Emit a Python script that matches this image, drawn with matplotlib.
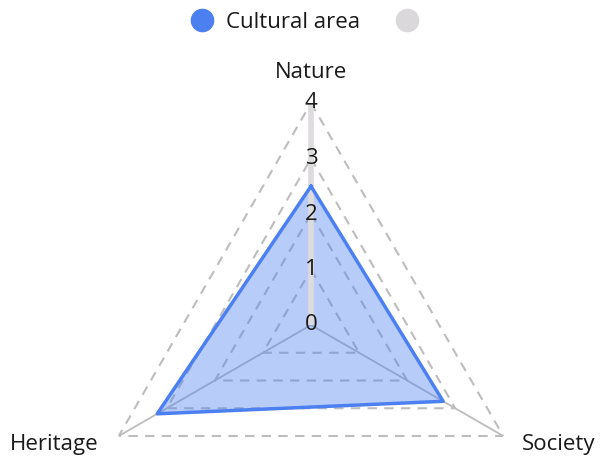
import numpy as np
import matplotlib.pyplot as plt
from matplotlib.lines import Line2D

plt.rcParams['font.family'] = ['Open Sans', 'DejaVu Sans']

categories = ['Nature', 'Society', 'Heritage']
cultural_area = [2.5, 2.75, 3.2]
grid_levels = [1, 2, 3, 4]
tick_labels = ['0', '1', '2', '3', '4']
series_names = ['Cultural area', '']

blue = '#4c80f1'
grid_col = '#bdbdbd'
txt = '#1a1a1a'
fs = 16

fig = plt.figure(figsize=(6, 4.61), dpi=100)
ax = fig.add_axes([89/600, -86/461, 444/600, 444/461], projection='polar')
ax.set_theta_offset(np.pi/2)
ax.set_theta_direction(-1)
ax.set_ylim(0, 4)
ax.axis('off')

n = len(categories)
theta = np.arange(n) * 2*np.pi/n
tc = np.append(theta, theta[0])

# grid triangles
for lvl in grid_levels:
    ax.plot(tc, [lvl]*(n+1), color=grid_col, lw=1.5, ls=(0, (4.5, 3.5)), zorder=1)
# spokes
for i, t in enumerate(theta):
    if i == 0:
        ax.plot([t, t], [0, 4], color='#dedbde', lw=4, solid_capstyle='butt', zorder=2.5)
    else:
        ax.plot([t, t], [0, 4], color=grid_col, lw=1.3, zorder=1)

vals = np.append(cultural_area, cultural_area[0])
ax.fill(tc, vals, color=blue, alpha=0.4, lw=0, zorder=2)
ax.plot(tc, vals, color=blue, lw=2.5, zorder=3)

for i, lab in enumerate(tick_labels):
    ax.text(0, i, lab, ha='center', va='center', fontsize=fs, color=txt, zorder=4)

# category labels
ax.text(0, 4.55, categories[0], ha='center', va='center', fontsize=fs, color=txt)
fig.text(522/600, 1-444/461, categories[1], ha='left', va='center', fontsize=fs, color=txt)
fig.text(99/600, 1-444/461, categories[2], ha='right', va='center', fontsize=fs, color=txt)

handles = [Line2D([], [], ls='', marker='o', ms=16, color=blue),
           Line2D([], [], ls='', marker='o', ms=16, color='#dbd8db')]
fig.legend(handles, series_names, ncol=2, loc='center', bbox_to_anchor=(0.518, 1-22/461),
           frameon=False, fontsize=fs, handletextpad=0.6, columnspacing=1.6, handlelength=1.0,
           labelcolor=txt)

fig.savefig('out.png', dpi=100)
